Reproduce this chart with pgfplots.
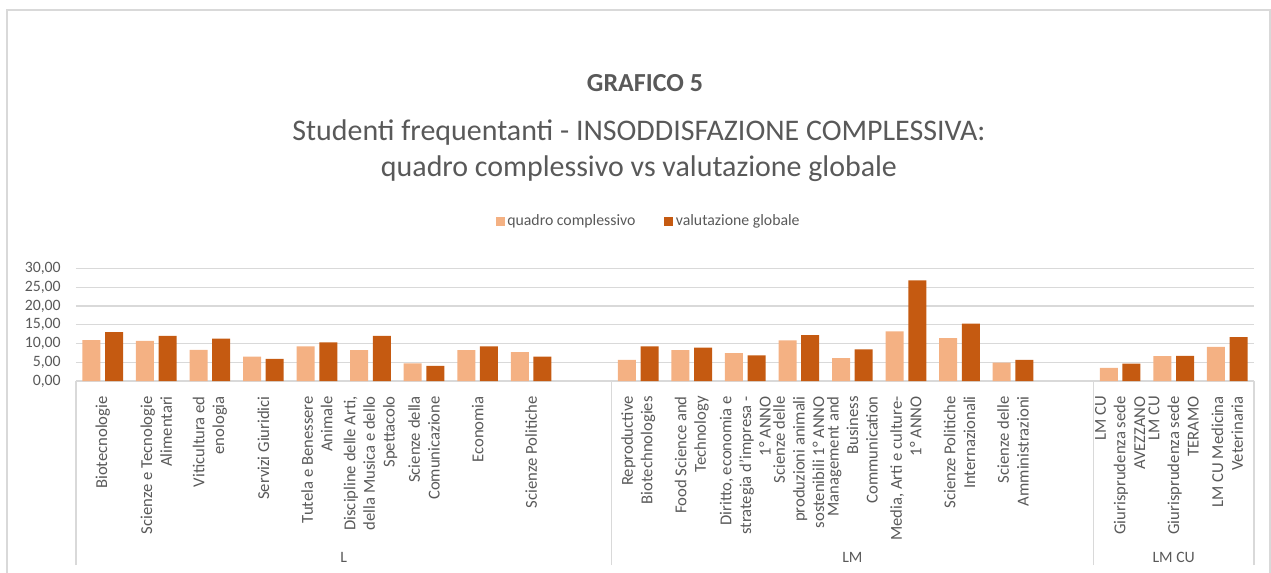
\documentclass[border=0pt]{standalone}
\usepackage{fontspec}
\setmainfont{Carlito}
\usepackage{pgfplots}
\pgfplotsset{compat=1.18}
\definecolor{lightc}{HTML}{F4B183}
\definecolor{darkc}{HTML}{C55A11}
\definecolor{txt}{HTML}{595959}
\definecolor{gridc}{HTML}{D9D9D9}
\newcommand\tf{\fontsize{11.85}{14.7}\selectfont}
\newcommand\cf{\fontsize{12.5}{14.7}\selectfont}
\begin{document}
\begin{tikzpicture}
\path[use as bounding box] (0pt,0pt) rectangle (953.25pt,-429pt);
\begin{scope}[x=0.75pt,y=-0.75pt]
\draw[gridc, line width=1.1pt] (7,590) -- (7,10) -- (1270,10) -- (1270,590);
\node[anchor=base, text=txt, font=\fontsize{19.5}{23}\selectfont\bfseries] at (645,91) {GRAFICO 5};
\node[anchor=base, text=txt, font=\fontsize{22.45}{27}\selectfont] at (639,140) {Studenti frequentanti - INSODDISFAZIONE COMPLESSIVA:};
\node[anchor=base, text=txt, font=\fontsize{22.45}{27}\selectfont] at (639,176) {quadro complessivo vs valutazione globale};
\end{scope}
\begin{axis}[
  at={(57pt,-285.75pt)}, anchor=south west,
  scale only axis, width=883.5pt, height=84.5pt,
  clip mode=individual,
  xmin=-0.5, xmax=21.5, ymin=0, ymax=30,
  ytick={0,5,10,15,20,25,30},
  ymajorgrids, grid style={gridc, line width=0.9pt},
  axis x line*=bottom, axis y line*=left,
  y axis line style={draw=none},
  x axis line style={draw=gridc, line width=0.9pt},
  major tick length=0pt,
  tick align=outside,
  xtick={0,1,2,3,4,5,6,7,8,10,11,12,13,14,15,16,17,19,20,21},
  xticklabels={
    {Biotecnologie},
    {Scienze e Tecnologie\\Alimentari},
    {Viticultura ed\\enologia},
    {Servizi Giuridici},
    {Tutela e Benessere\\Animale},
    {Discipline delle Arti,\\della Musica e dello\\Spettacolo},
    {Scienze della\\Comunicazione},
    {Economia},
    {Scienze Politiche},
    {Reproductive\\Biotechnologies},
    {Food Science and\\Technology},
    {Diritto, economia e\\strategia d'impresa -\\1° ANNO},
    {Scienze delle\\produzioni animali\\sostenibili 1° ANNO},
    {Management and\\Business\\Communication},
    {Media, Arti e culture-\\1° ANNO},
    {Scienze Politiche\\Internazionali},
    {Scienze delle\\Amministrazioni},
    {LM CU\\Giurisprudenza sede\\AVEZZANO},
    {LM CU\\Giurisprudenza  sede\\TERAMO},
    {LM CU Medicina\\Veterinaria}},
  xticklabel style={rotate=90, anchor=east, align=right, inner sep=0pt, font=\cf, text=txt},
  xticklabel shift=11.25pt,
  yticklabel style={anchor=east, inner sep=0pt, font=\tf, text=txt},
  yticklabel shift=11.25pt,
  /pgf/number format/.cd, fixed, fixed zerofill, precision=2, use comma, assume math mode=true,
  /pgfplots/.cd,
  extra x ticks={-0.5,9.5,18.5,21.5},
  extra x tick labels={},
  extra x tick style={major tick length=138pt, tick align=outside, xmajorgrids=false, tick style={draw=gridc, line width=0.9pt}},
  legend columns=2,
  legend style={at={(0.4864,1.4197)}, anchor=center, draw=none, fill=none, font=\tf, text=txt, inner sep=0pt,
    nodes={inner sep=2pt}, /tikz/every even column/.append style={column sep=19.5pt}},
]
\addplot[ybar, bar width=13.5pt, bar shift=-8.5pt, fill=lightc, draw=none,
  legend image code/.code={\fill[lightc] (0pt,-3.4pt) rectangle (6.75pt,3.4pt);}]
  coordinates {(0,10.9) (1,10.7) (2,8.3) (3,6.5) (4,9.2) (5,8.2) (6,4.7) (7,8.2) (8,7.7)
  (10,5.6) (11,8.2) (12,7.4) (13,10.8) (14,6.1) (15,13.2) (16,11.4) (17,4.9)
  (19,3.5) (20,6.6) (21,9.1)};
\addlegendentry{quadro complessivo}
\addplot[ybar, bar width=13.5pt, bar shift=8.5pt, fill=darkc, draw=none,
  legend image code/.code={\fill[darkc] (0pt,-3.4pt) rectangle (6.75pt,3.4pt);}]
  coordinates {(0,13.0) (1,12.0) (2,11.3) (3,5.9) (4,10.3) (5,12.0) (6,4.0) (7,9.2) (8,6.5)
  (10,9.2) (11,8.9) (12,6.8) (13,12.2) (14,8.4) (15,26.8) (16,15.3) (17,5.6)
  (19,4.6) (20,6.7) (21,11.7)};
\addlegendentry{valutazione globale}
\node[anchor=base, yshift=-135.75pt, font=\tf, text=txt] at (axis cs:4.5,0) {L};
\node[anchor=base, yshift=-135.75pt, font=\tf, text=txt] at (axis cs:14,0) {LM};
\node[anchor=base, yshift=-135.75pt, font=\tf, text=txt] at (axis cs:20,0) {LM CU};
\end{axis}
\end{tikzpicture}
\end{document}
